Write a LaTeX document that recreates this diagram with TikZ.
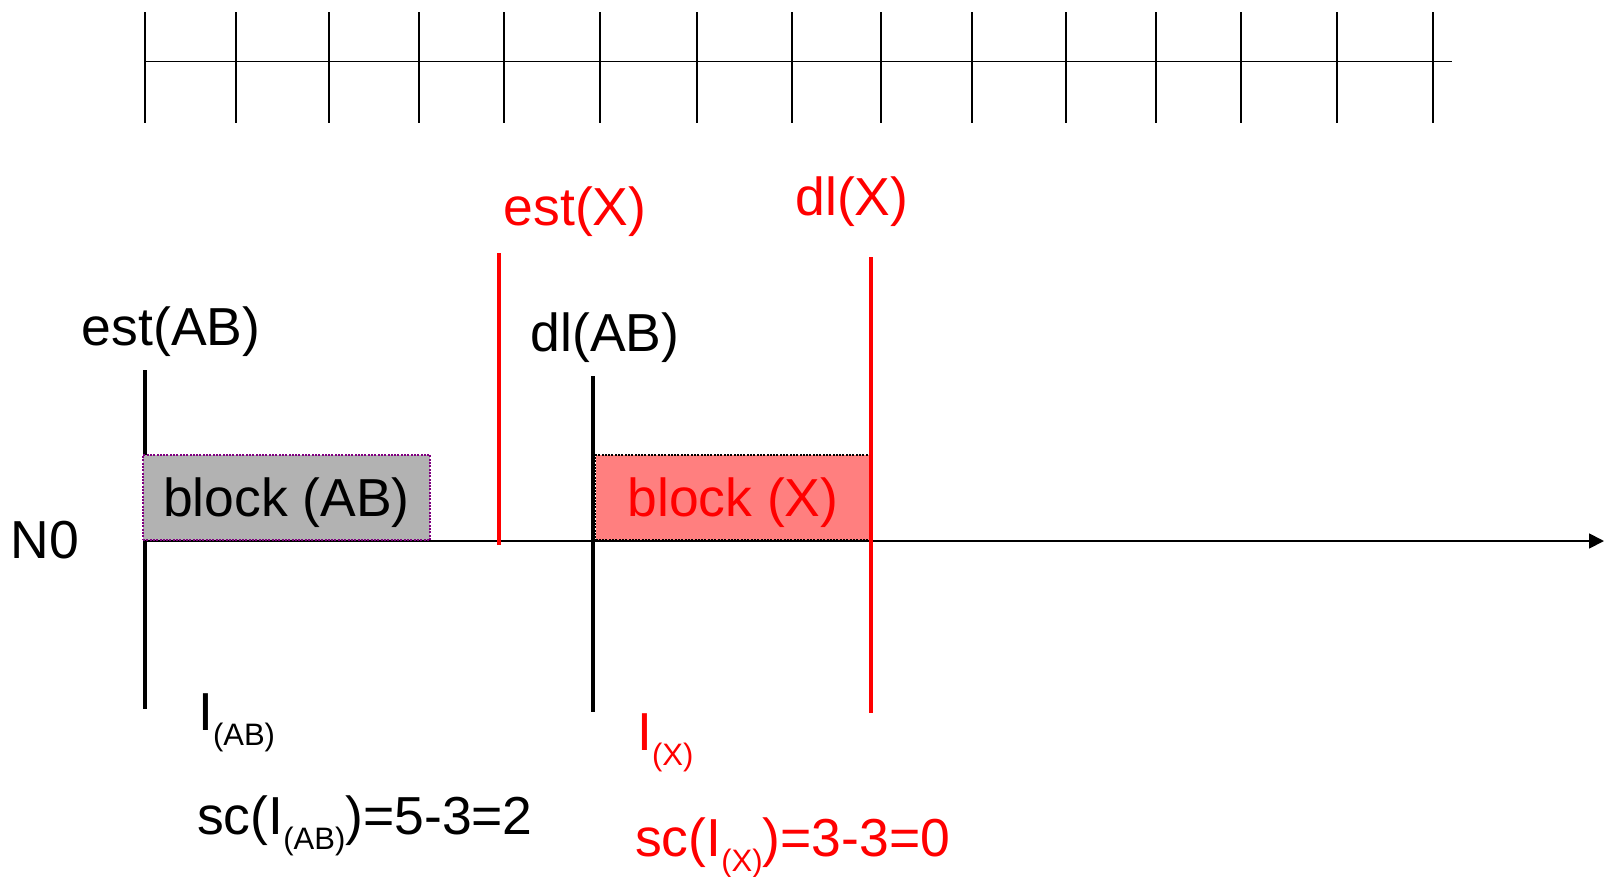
\documentclass[tikz,border=0pt]{standalone}
\usepackage{fontspec}
\setmainfont{Liberation Sans}
\usetikzlibrary{arrows.meta}

\definecolor{blkgray}{HTML}{B2B2B2}
\definecolor{blkpink}{HTML}{FF7F7F}
\definecolor{blkpurple}{HTML}{800080}

\newcommand\lsub[1]{\raisebox{-15pt}{\fontsize{31}{33}\selectfont #1}}

\begin{document}
\begin{tikzpicture}[
  x=1pt, y=-1pt,
  font=\fontsize{53.5}{62}\selectfont,
  lbl/.style={inner sep=0pt, anchor=base},
  rlbl/.style={lbl, text=red},
  note/.style={inner sep=0pt, anchor=base west},
  rnote/.style={note, text=red},
  blk/.style={rectangle, inner sep=0pt, line width=1.4pt, dash pattern=on 2pt off 1.3pt,
              text height=42pt, text depth=5pt},
  blkAB/.style={blk, draw=blkpurple, fill=blkgray, minimum width=287pt, minimum height=85pt},
  blkX/.style={blk, draw=black, fill=blkpink, text=red, minimum width=275pt, minimum height=85pt},
  bar/.style={draw=black, line width=4.5pt},
  rbar/.style={draw=red, line width=4.5pt},
  tick/.style={draw=black, line width=1.8pt},
  axis/.style={draw=black, line width=1.8pt, -{Triangle[length=15pt,width=15pt]}}
]
\useasboundingbox (0,0) rectangle (1607,876);

% time ruler
\coordinate (r0) at (145,61.5);
\coordinate (r1) at (1452,61.5);
\draw[tick] (r0) -- (r1);
\foreach \x in {145,236,329,419,504,600,697,792,881,972,1066,1156,1241,1337,1433}
  \draw[tick] (\x,12) -- (\x,123);

% node N0 axis
\node[lbl] (n0) at (45,558) {N0};
\coordinate (ax0) at (145,541);
\coordinate (ax1) at (1604,541);
\draw[axis] (ax0) -- (ax1);

% est(AB) bar, under the block
\coordinate (eAB1) at (145,370);
\coordinate (eAB2) at (145,709);
\draw[bar] (eAB1) -- (eAB2);

% blocks
\node[blkAB] (bAB) at (286.5,497.5) {block (AB)};
\node[blkX] (bX) at (733,497.5) {block (X)};

% other bars
\coordinate (dAB1) at (593,376);
\coordinate (dAB2) at (593,712);
\draw[bar] (dAB1) -- (dAB2);
\coordinate (eX1) at (499,253);
\coordinate (eX2) at (499,545);
\draw[rbar] (eX1) -- (eX2);
\coordinate (dX1) at (871,257);
\coordinate (dX2) at (871,713);
\draw[rbar] (dX1) -- (dX2);

% bar labels
\node[lbl] (estAB) at (171,345) {est(AB)};
\node[lbl] (dlAB) at (605,351) {dl(AB)};
\node[rlbl] (estX) at (575,225) {est(X)};
\node[rlbl] (dlX) at (852,215) {dl(X)};

% intervals and scores
\node[note] (iAB) at (198,730) {I\lsub{(AB)}};
\node[note] (scAB) at (197,834) {sc(I\lsub{(AB)})=5-3=2};
\node[rnote] (iX) at (637,750) {I\lsub{(X)}};
\node[rnote] (scX) at (635,856) {sc(I\lsub{(X)})=3-3=0};
\end{tikzpicture}
\end{document}
